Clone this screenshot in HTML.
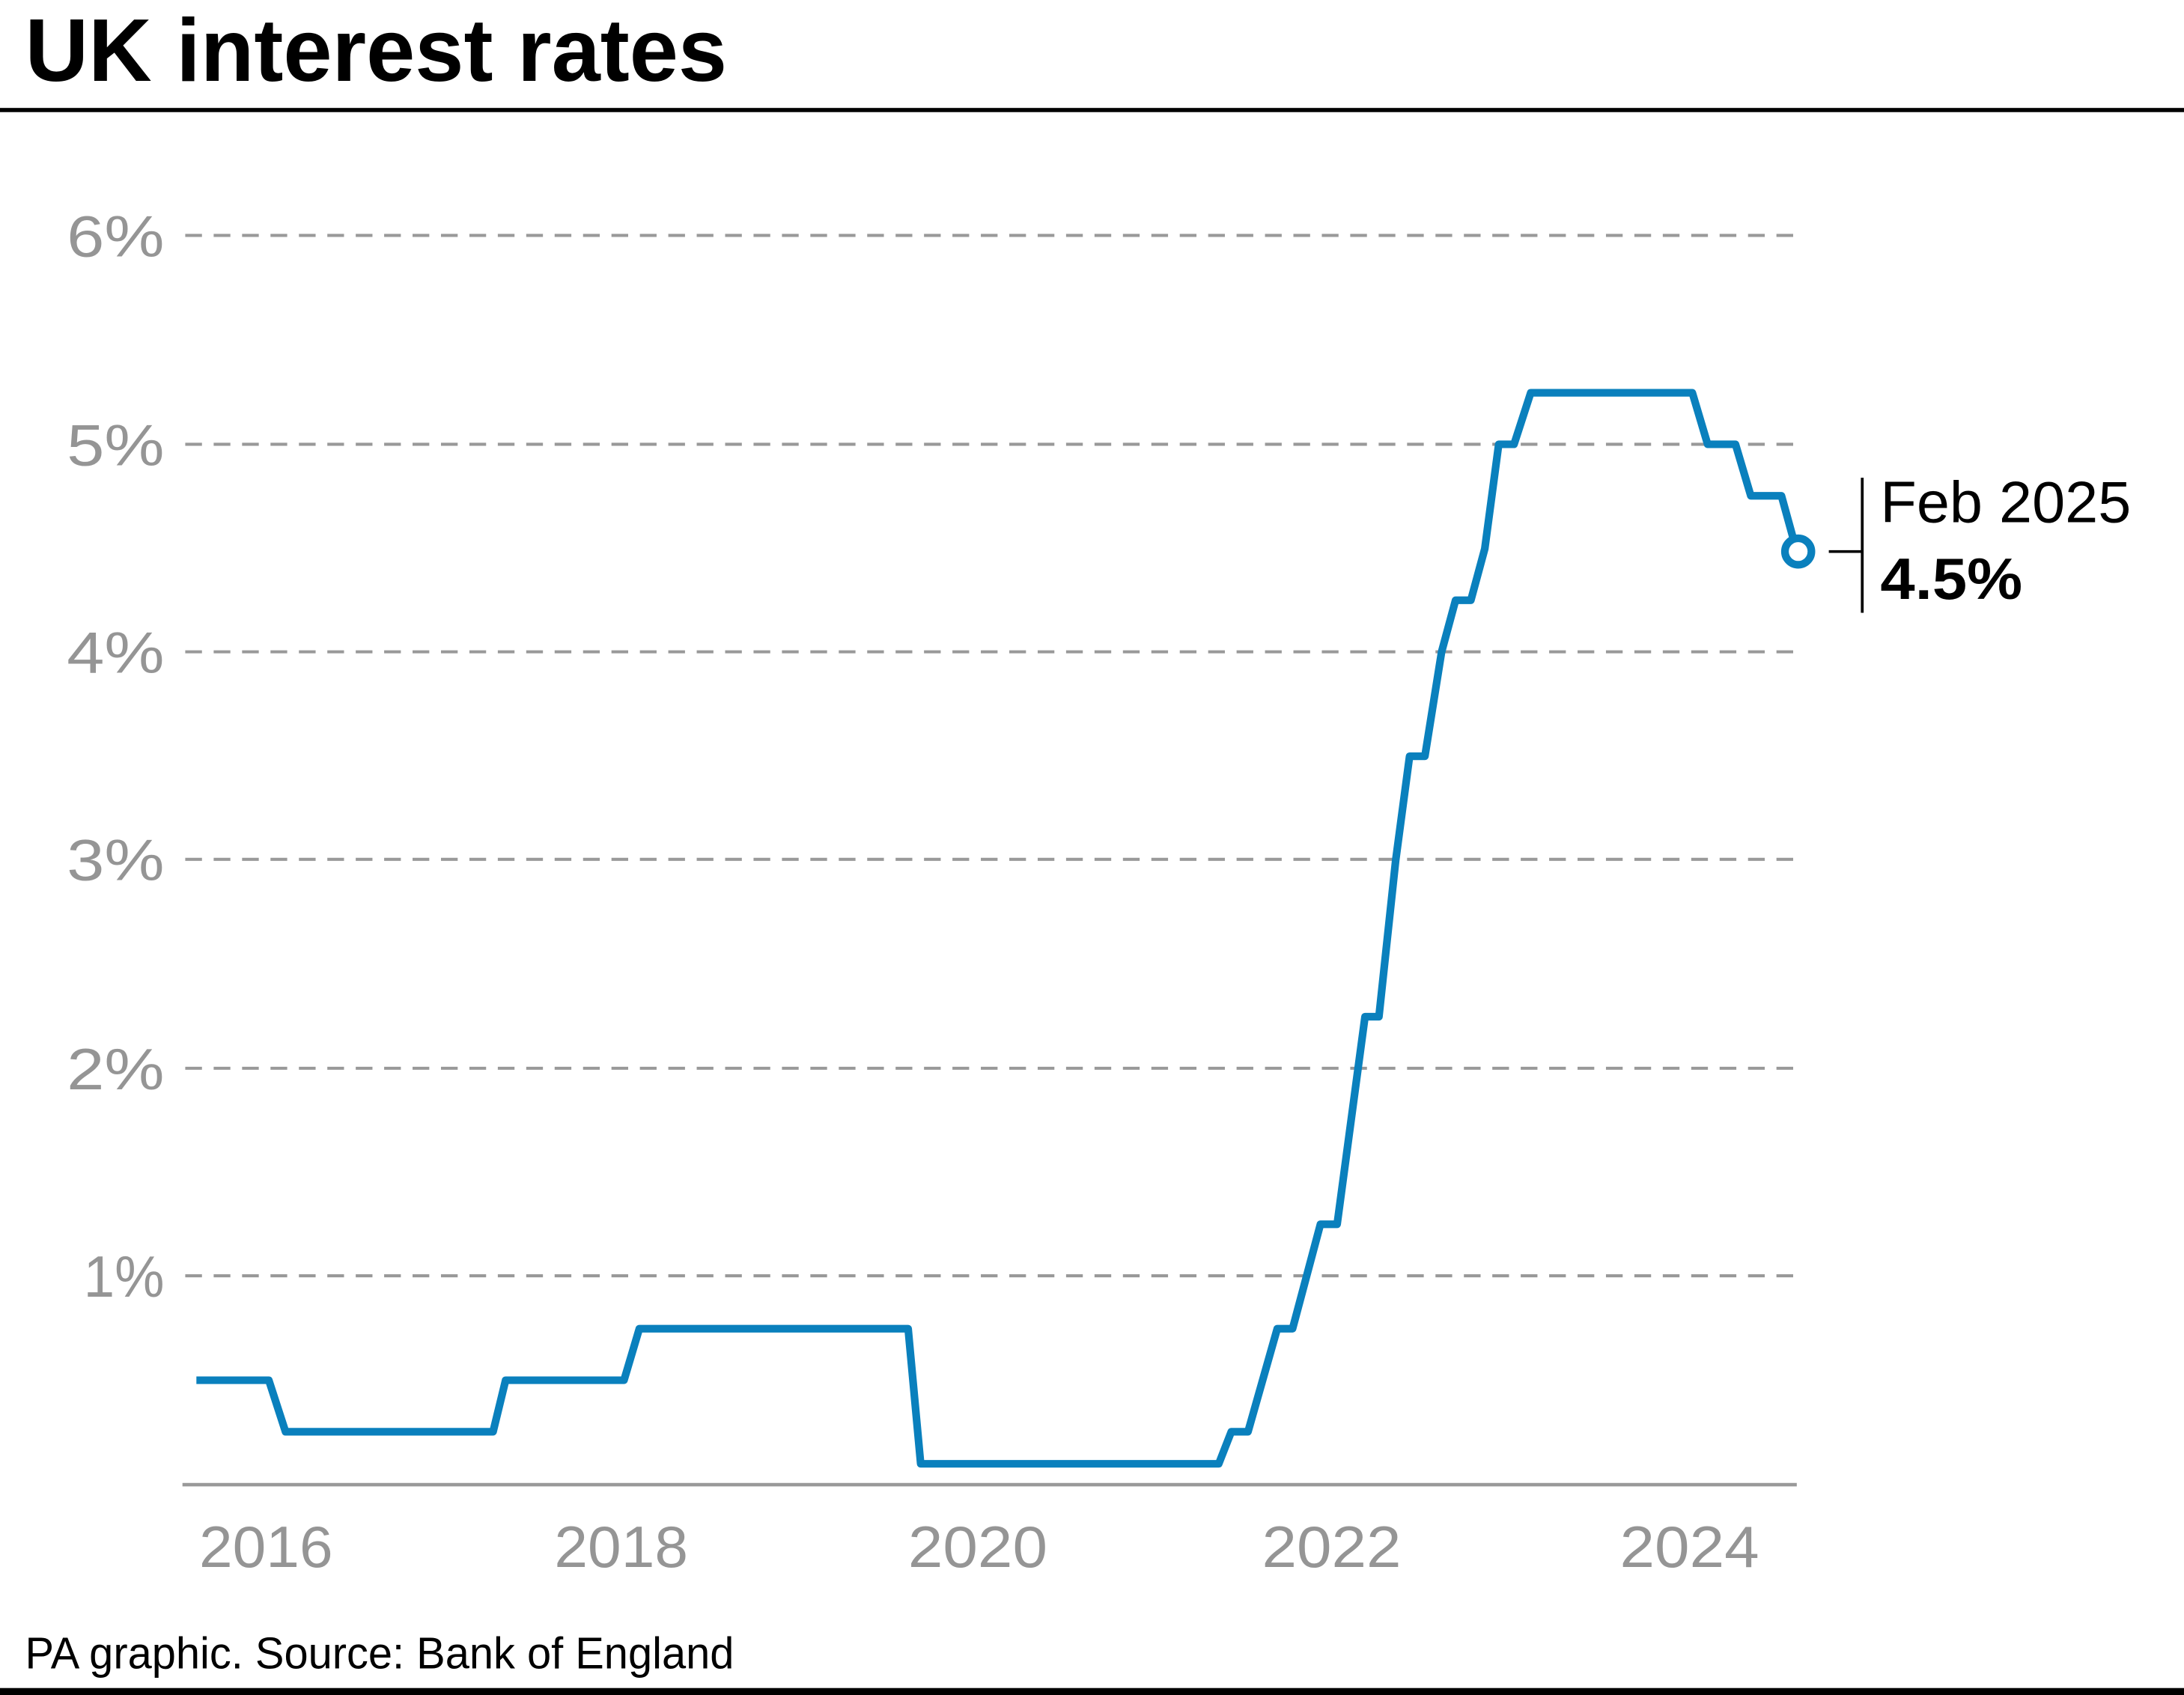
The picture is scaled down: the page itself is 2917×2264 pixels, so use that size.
<!DOCTYPE html>
<html><head><meta charset="utf-8"><style>html,body{margin:0;padding:0;background:#fff}svg{display:block}</style></head>
<body>
<svg width="2917" height="2264" viewBox="0 0 1568 1217" preserveAspectRatio="none" xmlns="http://www.w3.org/2000/svg" font-family="Liberation Sans, Arial, sans-serif">
<rect width="1568" height="1217" fill="#fff"/>
<text x="18" y="58" font-size="64" font-weight="bold" fill="#000" textLength="504" lengthAdjust="spacingAndGlyphs">UK interest rates</text>
<rect x="0" y="77.5" width="1568" height="3" fill="#000"/>
<g stroke="#999" stroke-width="2.2" stroke-dasharray="12 8.4">
<line x1="133" y1="169" x2="1293" y2="169"/>
<line x1="133" y1="319" x2="1293" y2="319"/>
<line x1="133" y1="468" x2="1293" y2="468"/>
<line x1="133" y1="617" x2="1293" y2="617"/>
<line x1="133" y1="767" x2="1293" y2="767"/>
<line x1="133" y1="916" x2="1293" y2="916"/>
</g>
<line x1="131" y1="1066" x2="1290" y2="1066" stroke="#999" stroke-width="2.5"/>
<g font-size="42" fill="#959595">
<text x="48" y="184" textLength="70" lengthAdjust="spacingAndGlyphs">6%</text>
<text x="48" y="334" textLength="70" lengthAdjust="spacingAndGlyphs">5%</text>
<text x="48" y="483" textLength="70" lengthAdjust="spacingAndGlyphs">4%</text>
<text x="48" y="632" textLength="70" lengthAdjust="spacingAndGlyphs">3%</text>
<text x="48" y="782" textLength="70" lengthAdjust="spacingAndGlyphs">2%</text>
<text x="60" y="931" textLength="58" lengthAdjust="spacingAndGlyphs">1%</text>
</g>
<g font-size="42" fill="#959595">
<text x="143" y="1125" textLength="96" lengthAdjust="spacingAndGlyphs">2016</text>
<text x="398" y="1125" textLength="96" lengthAdjust="spacingAndGlyphs">2018</text>
<text x="652" y="1125" textLength="100" lengthAdjust="spacingAndGlyphs">2020</text>
<text x="906" y="1125" textLength="100" lengthAdjust="spacingAndGlyphs">2022</text>
<text x="1163" y="1125" textLength="100" lengthAdjust="spacingAndGlyphs">2024</text>
</g>
<polyline fill="none" stroke="#0a80bd" stroke-width="5.5" stroke-linejoin="round" points="141,991 193,991 205,1028 354,1028 363,991 448,991 459,954 652,954 661,1051 875,1051 884,1028 896,1028 917,954 928,954 948,879 960,879 980,730 990,730 1002,618 1012,543 1023,543 1035,468 1045,431 1056,431 1066,394 1076,319 1087,319 1099,282 1215,282 1226,319 1246,319 1257,356 1279,356 1287,385"/>
<circle cx="1291" cy="396" r="9.5" fill="#fff" stroke="#0a80bd" stroke-width="5.5"/>
<line x1="1313" y1="396" x2="1337" y2="396" stroke="#000" stroke-width="2"/>
<line x1="1337" y1="343" x2="1337" y2="440" stroke="#000" stroke-width="2"/>
<text x="1350" y="375" font-size="42" fill="#000" textLength="180" lengthAdjust="spacingAndGlyphs">Feb 2025</text>
<text x="1350" y="430" font-size="42" font-weight="bold" fill="#000" textLength="102" lengthAdjust="spacingAndGlyphs">4.5%</text>
<text x="18" y="1198" font-size="32" fill="#000" textLength="509" lengthAdjust="spacingAndGlyphs">PA graphic. Source: Bank of England</text>
<rect x="0" y="1212" width="1568" height="5" fill="#000"/>
</svg>
</body></html>
